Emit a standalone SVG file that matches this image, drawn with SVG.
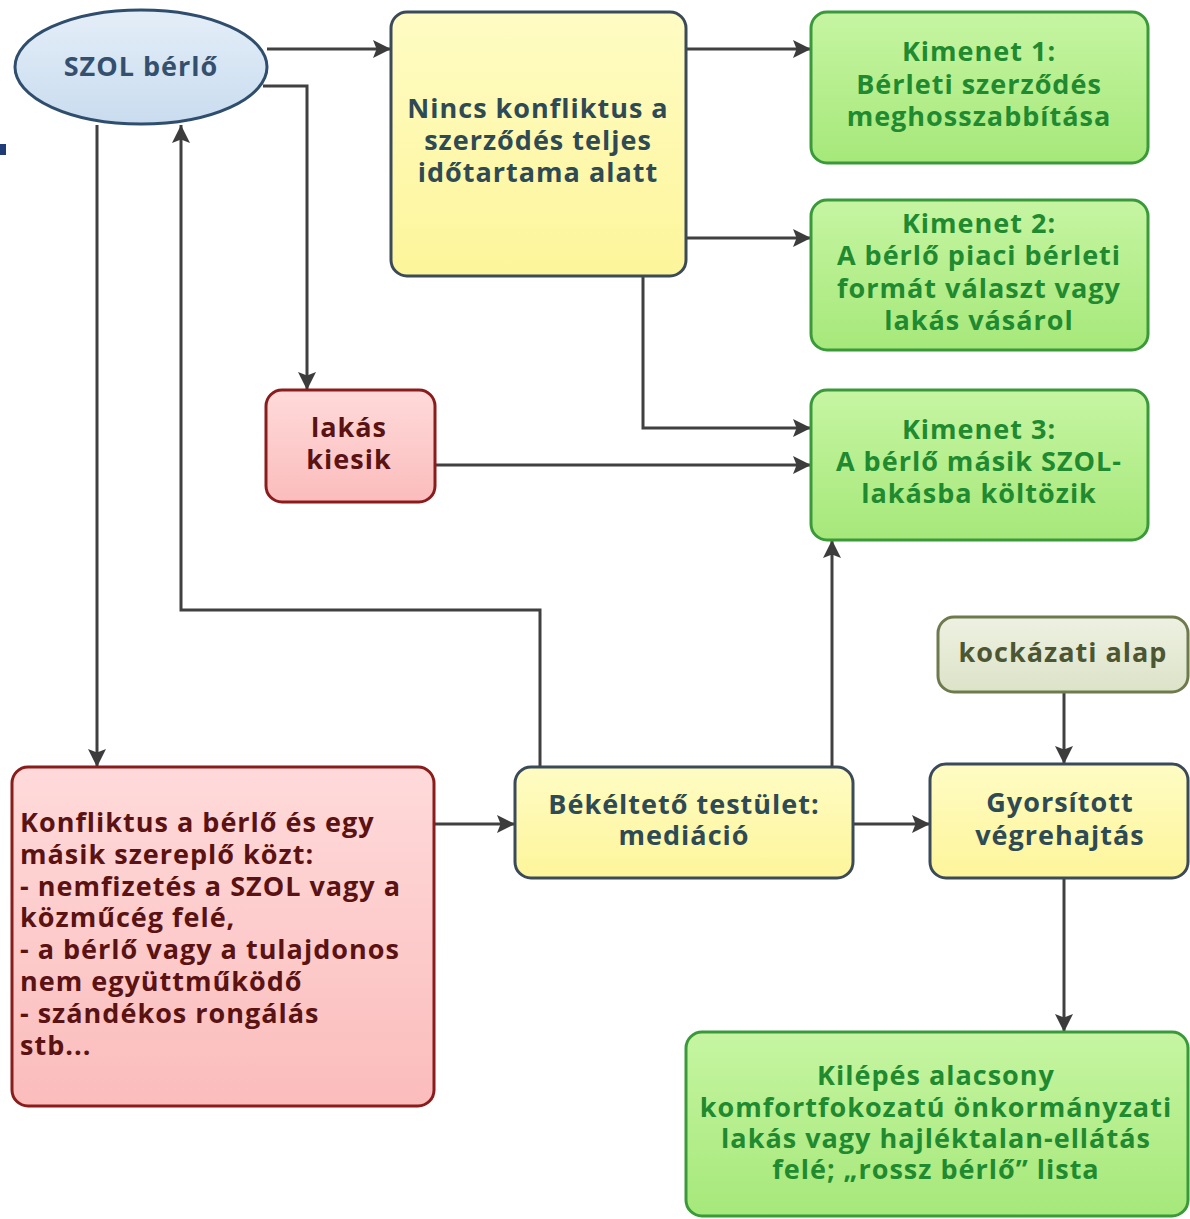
<svg xmlns="http://www.w3.org/2000/svg" width="1190" height="1219" viewBox="0 0 1190 1219">
<defs>
<linearGradient id="gBlue" x1="0" y1="0" x2="0" y2="1"><stop offset="0" stop-color="#e4eef8"/><stop offset="1" stop-color="#c9dcef"/></linearGradient>
<linearGradient id="gYel" x1="0" y1="0" x2="0" y2="1"><stop offset="0" stop-color="#fffcc4"/><stop offset="1" stop-color="#fdf59a"/></linearGradient>
<linearGradient id="gGrn" x1="0" y1="0" x2="0" y2="1"><stop offset="0" stop-color="#c6f5a2"/><stop offset="1" stop-color="#a6e87a"/></linearGradient>
<linearGradient id="gRed" x1="0" y1="0" x2="0" y2="1"><stop offset="0" stop-color="#ffdada"/><stop offset="1" stop-color="#fbbcbc"/></linearGradient>
<linearGradient id="gOl" x1="0" y1="0" x2="0" y2="1"><stop offset="0" stop-color="#eef1e2"/><stop offset="1" stop-color="#dce3c8"/></linearGradient>
<marker id="ah" viewBox="0 0 10 10" refX="10" refY="5" markerWidth="7" markerHeight="6" markerUnits="strokeWidth" orient="auto"><path d="M0,0 L10,5 L0,10 L2,5 Z" fill="#3c3c3c"/></marker>
</defs>
<style>
text{font-family:"Open Sans",Lato,"Liberation Sans",sans-serif;font-weight:bold;font-size:27px;letter-spacing:1px;text-anchor:middle}
text.l{text-anchor:start}
.blue{fill:url(#gBlue);stroke:#2f4d6c;stroke-width:3}
.yel{fill:url(#gYel);stroke:#3b4a58;stroke-width:3}
.grn{fill:url(#gGrn);stroke:#3a9a3a;stroke-width:3}
.red{fill:url(#gRed);stroke:#8a1c1c;stroke-width:3}
.ol{fill:url(#gOl);stroke:#6e7a4e;stroke-width:3}
.tb{fill:#34506e}
.ty{fill:#2e4a55}
.tg{fill:#1f8a30}
.tr{fill:#5a1212}
.to{fill:#4c5632}
.c{fill:none;stroke:#404040;stroke-width:3;marker-end:url(#ah)}
</style>
<rect x="0" y="144" width="6" height="11" fill="#1f3c78"/>
<g id="connectors">
<path class="c" d="M267,49 H391"/>
<path class="c" d="M263,86 H307 V390"/>
<path class="c" d="M97,125 V767"/>
<path class="c" d="M540,767 V610 H181 V125"/>
<path class="c" d="M686,49 H811"/>
<path class="c" d="M686,238 H811"/>
<path class="c" d="M643,276 V428 H811"/>
<path class="c" d="M435,465 H811"/>
<path class="c" d="M832,767 V540"/>
<path class="c" d="M434,824 H515"/>
<path class="c" d="M853,824 H930"/>
<path class="c" d="M1064,692 V764"/>
<path class="c" d="M1064,878 V1032"/>
</g>
<g id="szol">
<ellipse class="blue" cx="141" cy="67" rx="126" ry="57"/>
<text class="tb" x="141" y="76">SZOL bérlő</text>
</g>
<g id="nincs">
<rect class="yel" x="391" y="12" width="295" height="264" rx="16"/>
<text class="ty" x="538" y="118">Nincs konfliktus a</text>
<text class="ty" x="538" y="150">szerződés teljes</text>
<text class="ty" x="538" y="182">időtartama alatt</text>
</g>
<g id="kimenet1">
<rect class="grn" x="811" y="12" width="337" height="151" rx="16"/>
<text class="tg" x="979" y="61">Kimenet 1:</text>
<text class="tg" x="979" y="94">Bérleti szerződés</text>
<text class="tg" x="979" y="126">meghosszabbítása</text>
</g>
<g id="kimenet2">
<rect class="grn" x="811" y="200" width="337" height="150" rx="16"/>
<text class="tg" x="979" y="233">Kimenet 2:</text>
<text class="tg" x="979" y="265">A bérlő piaci bérleti</text>
<text class="tg" x="979" y="298">formát választ vagy</text>
<text class="tg" x="979" y="330">lakás vásárol</text>
</g>
<g id="kimenet3">
<rect class="grn" x="811" y="390" width="337" height="150" rx="16"/>
<text class="tg" x="979" y="439">Kimenet 3:</text>
<text class="tg" x="979" y="471">A bérlő másik SZOL-</text>
<text class="tg" x="979" y="503">lakásba költözik</text>
</g>
<g id="lakas">
<rect class="red" x="266" y="390" width="169" height="112" rx="16"/>
<text class="tr" x="349" y="437">lakás</text>
<text class="tr" x="349" y="469">kiesik</text>
</g>
<g id="kockazati">
<rect class="ol" x="938" y="617" width="250" height="75" rx="16"/>
<text class="to" x="1063" y="662">kockázati alap</text>
</g>
<g id="konfliktus">
<rect class="red" x="12" y="767" width="422" height="339" rx="16"/>
<text class="tr l" x="20" y="832">Konfliktus a bérlő és egy</text>
<text class="tr l" x="20" y="864">másik szereplő közt:</text>
<text class="tr l" x="20" y="896">- nemfizetés a SZOL vagy a</text>
<text class="tr l" x="20" y="927">közműcég felé,</text>
<text class="tr l" x="20" y="959">- a bérlő vagy a tulajdonos</text>
<text class="tr l" x="20" y="991">nem együttműködő</text>
<text class="tr l" x="20" y="1023">- szándékos rongálás</text>
<text class="tr l" x="20" y="1055">stb...</text>
</g>
<g id="bekelteto">
<rect class="yel" x="515" y="767" width="338" height="111" rx="16"/>
<text class="ty" x="684" y="814">Békéltető testület:</text>
<text class="ty" x="684" y="845">mediáció</text>
</g>
<g id="gyorsitott">
<rect class="yel" x="930" y="764" width="258" height="114" rx="16"/>
<text class="ty" x="1060" y="812">Gyorsított</text>
<text class="ty" x="1060" y="845">végrehajtás</text>
</g>
<g id="kilepes">
<rect class="grn" x="686" y="1032" width="502" height="184" rx="16"/>
<text class="tg" x="936" y="1085">Kilépés alacsony</text>
<text class="tg" x="936" y="1117">komfortfokozatú önkormányzati</text>
<text class="tg" x="936" y="1148">lakás vagy hajléktalan-ellátás</text>
<text class="tg" x="936" y="1179">felé; „rossz bérlő” lista</text>
</g>
</svg>
